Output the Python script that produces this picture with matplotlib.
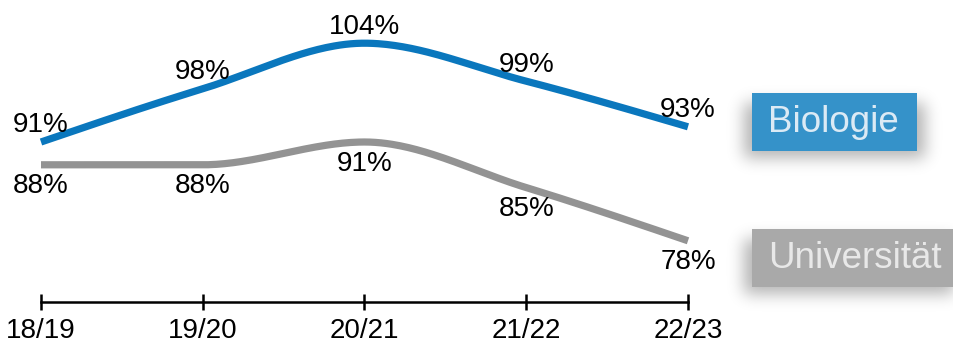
import numpy as np
import matplotlib.pyplot as plt
from matplotlib.patches import Rectangle

plt.rcParams["font.family"] = ["Liberation Sans", "DejaVu Sans"]

semesters = ["18/19", "19/20", "20/21", "21/22", "22/23"]
biologie = [91, 98, 104, 99, 93]
universitaet = [88, 88, 91, 85, 78]

BLUE = "#0a77bd"
GRAY = "#939393"
W, H = 954, 350


def monotone_curve(x, y, n=60):
    # Fritsch-Carlson monotone cubic, same shape as d3.curveMonotoneX
    x = np.asarray(x, float)
    y = np.asarray(y, float)
    h = np.diff(x)
    d = np.diff(y) / h
    m = np.zeros_like(y)
    for i in range(1, len(y) - 1):
        if d[i - 1] * d[i] > 0:
            p = (d[i - 1] * h[i] + d[i] * h[i - 1]) / (h[i - 1] + h[i])
            m[i] = np.sign(p) * min(2 * abs(d[i - 1]), 2 * abs(d[i]), abs(p))
    m[0] = (3 * d[0] - m[1]) / 2
    m[-1] = (3 * d[-1] - m[-2]) / 2
    xs, ys = [], []
    for i in range(len(h)):
        t = np.linspace(0, 1, n)
        h00 = 2 * t**3 - 3 * t**2 + 1
        h10 = t**3 - 2 * t**2 + t
        h01 = -2 * t**3 + 3 * t**2
        h11 = t**3 - t**2
        xs.append(x[i] + t * h[i])
        ys.append(h00 * y[i] + h10 * h[i] * m[i] + h01 * y[i + 1] + h11 * h[i] * m[i + 1])
    return np.concatenate(xs), np.concatenate(ys)


fig = plt.figure(figsize=(W / 100, H / 100), dpi=100)
fig.patch.set_facecolor("white")
ax = fig.add_axes([0, 0, 1, 1])
ax.patch.set_visible(False)

# first category sits at x=41 px, last at x=688 px; 7.6 px per percentage point
px_per_cat = (688 - 41) / 4
ax.set_xlim(-41 / px_per_cat, (W - 41) / px_per_cat)
ppv = 7.6
ax.set_ylim(91 - (H - 142) / ppv, 91 + 142 / ppv)

xi = np.arange(len(semesters))
for vals, color in [(biologie, BLUE), (universitaet, GRAY)]:
    cx, cy = monotone_curve(xi, vals)
    ax.plot(cx, cy, color=color, lw=5.2, solid_capstyle="butt", zorder=3)

for i, v in enumerate(biologie):
    ax.annotate(f"{v}%", (i, v), xytext=(0, 12), textcoords="offset points",
                ha="center", va="center", fontsize=20, color="black", zorder=4)
for i, v in enumerate(universitaet):
    ax.annotate(f"{v}%", (i, v), xytext=(0, -15.5), textcoords="offset points",
                ha="center", va="center", fontsize=20, color="black", zorder=4)

# bottom axis
for s in ["left", "right", "top"]:
    ax.spines[s].set_visible(False)
ax.spines["bottom"].set_position(("data", 91 - 160 / ppv))
ax.spines["bottom"].set_bounds(0, 4)
ax.spines["bottom"].set_linewidth(1.8)
ax.set_yticks([])
ax.set_xticks(xi)
ax.set_xticklabels(semesters, fontsize=20)
ax.tick_params(axis="x", direction="inout", length=12, width=1.8, pad=5.5)

# legend boxes with a soft, wide drop shadow underneath
boxes = [("Biologie", 752, 93, 165, 58, "#3592c9", "#dbeaf5"),
         ("Universität", 752, 229, 210, 58, "#a9a9a9", "#e8e8e8")]

shadow = np.zeros((H, W))
for _, bx, by, bw, bh, _, _ in boxes:
    shadow[by + 10:by + bh + 7, bx - 8:min(bx + bw + 8, W)] = 1.0
k = np.exp(-0.5 * (np.arange(-24, 25) / 8.0) ** 2)
k /= k.sum()
shadow = np.apply_along_axis(lambda r: np.convolve(r, k, mode="same"), 1, shadow)
shadow = np.apply_along_axis(lambda c: np.convolve(c, k, mode="same"), 0, shadow)
img = np.zeros((H, W, 4))
img[..., 3] = shadow * 0.3
fig.figimage(img, 0, 0, origin="upper", zorder=-1)

for label, bx, by, bw, bh, fc, tc in boxes:
    fig.add_artist(Rectangle((bx / W, 1 - (by + bh) / H), bw / W, bh / H,
                             transform=fig.transFigure, facecolor=fc, edgecolor="none"))
    fig.text((bx + 16) / W, 1 - (by + bh / 2 + 1) / H, label, fontsize=26.5,
             color=tc, ha="left", va="center")

fig.savefig("out.png", dpi=100)
